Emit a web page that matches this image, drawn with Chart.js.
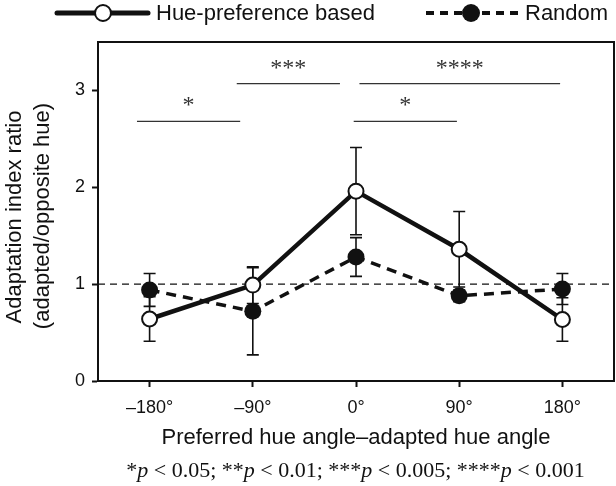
<!DOCTYPE html>
<html>
<head>
<meta charset="utf-8">
<script src="https://cdn.jsdelivr.net/npm/chart.js@4.4.0/dist/chart.umd.min.js"></script>
<style>
html,body{margin:0;padding:0;background:#fff;}
#wrap{width:616px;height:486px;position:relative;}
</style>
</head>
<body>
<div id="wrap"><canvas id="c" width="616" height="486"></canvas></div>
<script>
// ---- data ----
const angles = [-180, -90, 0, 90, 180];
const hueMean = [0.64, 0.99, 1.96, 1.36, 0.635];
const hueErr = [0.23, 0.19, 0.45, 0.39, 0.225];
const randMean = [0.94, 0.72, 1.28, 0.88, 0.95];
const randErr = [0.17, 0.45, 0.20, 0.06, 0.16];
const yTicks = [0, 1, 2, 3];
const refLevel = 1;
// significance brackets
const bracketX1 = [-191, -104, 3, -2];
const bracketX2 = [-101, -14, 178, 88];
const bracketY = [2.68, 3.07, 3.07, 2.68];
const bracketLabel = ['*', '***', '****', '*'];
const seriesNames = ['Hue-preference based', 'Random'];
const xTitle = 'Preferred hue angle\u2013adapted hue angle';
const yTitle = ['Adaptation index ratio', '(adapted/opposite hue)'];

const SANS = '"Liberation Sans", Arial, Helvetica, sans-serif';
const SERIF = '"Liberation Serif", "Times New Roman", serif';

const toPts = (xs, ys) => xs.map((x, i) => ({x: x, y: ys[i]}));

const datasets = [
  {
    label: seriesNames[0], data: toPts(angles, hueMean), order: 0,
    showLine: true, borderColor: '#111', borderWidth: 4.5,
    pointRadius: 7.5, pointBorderWidth: 2, pointBackgroundColor: '#fff', pointBorderColor: '#111'
  },
  {
    label: seriesNames[1], data: toPts(angles, randMean), order: 1,
    showLine: true, borderColor: '#111', borderWidth: 3.5, borderDash: [10, 7],
    pointRadius: 8.5, pointBorderWidth: 0, pointBackgroundColor: '#111', pointBorderColor: '#111'
  },
  {
    label: 'ref', data: [{x: -225, y: refLevel}, {x: 225, y: refLevel}], order: 5,
    showLine: true, borderColor: '#111', borderWidth: 1.2, borderDash: [7, 5], pointRadius: 0
  }
];
bracketX1.forEach((x1, i) => {
  datasets.push({
    label: 'b' + i, data: [{x: x1, y: bracketY[i]}, {x: bracketX2[i], y: bracketY[i]}], order: 4,
    showLine: true, borderColor: '#333', borderWidth: 1.3, pointRadius: 0
  });
});

const extras = {
  id: 'extras',
  beforeDatasetsDraw(chart) {
    const ctx = chart.ctx, xs = chart.scales.x, ys = chart.scales.y;
    ctx.save();
    ctx.strokeStyle = '#111';
    ctx.lineWidth = 1.6;
    const cap = 6;
    const drawErr = (means, errs) => {
      angles.forEach((a, i) => {
        const px = xs.getPixelForValue(a);
        const y1 = ys.getPixelForValue(means[i] + errs[i]);
        const y2 = ys.getPixelForValue(means[i] - errs[i]);
        ctx.beginPath();
        ctx.moveTo(px, y1); ctx.lineTo(px, y2);
        ctx.moveTo(px - cap, y1); ctx.lineTo(px + cap, y1);
        ctx.moveTo(px - cap, y2); ctx.lineTo(px + cap, y2);
        ctx.stroke();
      });
    };
    drawErr(randMean, randErr);
    drawErr(hueMean, hueErr);
    ctx.restore();
  },
  afterDraw(chart) {
    const ctx = chart.ctx, xs = chart.scales.x, ys = chart.scales.y, ca = chart.chartArea;
    ctx.save();
    // frame
    ctx.strokeStyle = '#111';
    ctx.lineWidth = 2;
    ctx.strokeRect(ca.left, ca.top, ca.right - ca.left, ca.bottom - ca.top);
    // bracket labels
    ctx.fillStyle = '#333';
    ctx.font = '24px ' + SERIF;
    ctx.textAlign = 'center';
    ctx.textBaseline = 'alphabetic';
    bracketLabel.forEach((t, i) => {
      const cx = (xs.getPixelForValue(bracketX1[i]) + xs.getPixelForValue(bracketX2[i])) / 2;
      ctx.fillText(t, cx, ys.getPixelForValue(bracketY[i]) - 9);
    });
    // y title
    ctx.fillStyle = '#111';
    ctx.font = '22px ' + SANS;
    ctx.textBaseline = 'middle';
    ctx.save();
    ctx.translate(15, 217);
    ctx.rotate(-Math.PI / 2);
    ctx.fillText(yTitle[0], 0, 0);
    ctx.restore();
    ctx.save();
    ctx.translate(43, 216);
    ctx.rotate(-Math.PI / 2);
    ctx.fillText(yTitle[1], 0, 0);
    ctx.restore();
    // legend
    const ly = 13;
    ctx.strokeStyle = '#111';
    ctx.lineCap = 'round';
    ctx.lineWidth = 5;
    ctx.beginPath(); ctx.moveTo(57, ly); ctx.lineTo(148, ly); ctx.stroke();
    ctx.lineCap = 'butt';
    ctx.beginPath(); ctx.arc(103, ly, 8, 0, Math.PI * 2);
    ctx.fillStyle = '#fff'; ctx.fill();
    ctx.lineWidth = 2; ctx.stroke();
    ctx.lineWidth = 4;
    ctx.setLineDash([8, 6]);
    ctx.beginPath(); ctx.moveTo(426, ly); ctx.lineTo(518, ly); ctx.stroke();
    ctx.setLineDash([]);
    ctx.beginPath(); ctx.arc(471, ly, 9, 0, Math.PI * 2);
    ctx.fillStyle = '#111'; ctx.fill();
    ctx.fillStyle = '#111';
    ctx.font = '22px ' + SANS;
    ctx.textAlign = 'left';
    ctx.textBaseline = 'middle';
    ctx.fillText(seriesNames[0], 156, ly + 1);
    ctx.fillText(seriesNames[1], 525, ly + 1);
    // footnote
    const parts = [
      ['*', false], ['p', true], [' < 0.05; **', false], ['p', true], [' < 0.01; ***', false],
      ['p', true], [' < 0.005; ****', false], ['p', true], [' < 0.001', false]
    ];
    const fs = 22;
    const fontOf = it => (it ? 'italic ' : '') + fs + 'px ' + SERIF;
    let total = 0;
    parts.forEach(p => { ctx.font = fontOf(p[1]); total += ctx.measureText(p[0]).width; });
    let fx = 355.5 - total / 2;
    ctx.textBaseline = 'alphabetic';
    ctx.fillStyle = '#111';
    parts.forEach(p => { ctx.font = fontOf(p[1]); ctx.fillText(p[0], fx, 477); fx += ctx.measureText(p[0]).width; });
    ctx.restore();
  }
};

new Chart(document.getElementById('c'), {
  type: 'scatter',
  data: {datasets: datasets},
  options: {
    responsive: false,
    animation: false,
    layout: {autoPadding: false, padding: {left: 0, right: 2, top: 42, bottom: 35}},
    plugins: {legend: {display: false}, tooltip: {enabled: false}},
    scales: {
      x: {
        type: 'linear', min: -225, max: 225,
        afterFit: s => { s.height = 70; s.paddingLeft = 0; s.paddingRight = 0; },
        afterBuildTicks: s => { s.ticks = angles.map(v => ({value: v})); },
        border: {display: true, color: '#111', width: 2},
        grid: {drawOnChartArea: false, drawTicks: true, tickLength: 6, color: '#111', tickColor: '#111', tickWidth: 2},
        ticks: {
          padding: 10, color: '#111', font: {family: SANS, size: 18},
          callback: v => (v < 0 ? '\u2013' + Math.abs(v) : String(v)) + '\u00b0'
        },
        title: {display: true, text: xTitle, color: '#111', font: {family: SANS, size: 22}, padding: {top: 0, bottom: 0}}
      },
      y: {
        min: 0, max: 3.5,
        afterFit: s => { s.width = 98; s.paddingTop = 0; s.paddingBottom = 0; },
        afterBuildTicks: s => { s.ticks = yTicks.map(v => ({value: v})); },
        border: {display: true, color: '#111', width: 2},
        grid: {drawOnChartArea: false, drawTicks: true, tickLength: 6, color: '#111', tickColor: '#111', tickWidth: 2},
        ticks: {padding: 7, color: '#111', font: {family: SANS, size: 18}}
      }
    }
  },
  plugins: [extras]
});
</script>
</body>
</html>
